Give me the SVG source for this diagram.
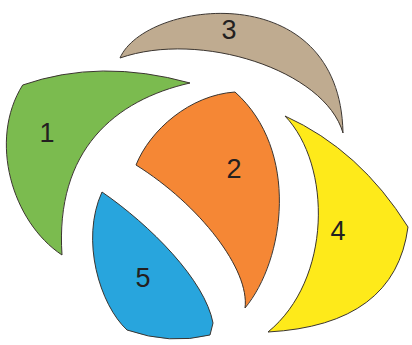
<svg xmlns="http://www.w3.org/2000/svg" width="412" height="345" viewBox="0 0 412 345">
<style>
.s{stroke:#3b3530;stroke-width:1;stroke-linejoin:round}
.t{font-family:"Liberation Sans",Arial,sans-serif;font-size:27px;fill:#231f20;text-anchor:middle}
</style>
<rect width="412" height="345" fill="#fff"/>
<g id="node1">
<path class="s" fill="#7bbb4f" d="M22.7,85 Q100,58 190,83 C115,100 55,150 62,255 C12,222 -12,140 22.7,85 Z"/>
<text class="t" x="47" y="142">1</text>
</g>
<g id="node3">
<path class="s" fill="#bfab90" d="M120,58 C145,0 340,-25 343,133 C325,70 200,30 120,58 Z"/>
<text class="t" x="229" y="39">3</text>
</g>
<g id="node2">
<path class="s" fill="#f58735" d="M235,92 C300,150 285,260 245,308 C250,270 200,205 136,165 C150,130 190,95 235,92 Z"/>
<text class="t" x="234" y="178">2</text>
</g>
<g id="node4">
<path class="s" fill="#feea1a" d="M285,116 Q360,150 408,227 Q395,325 268,332 C332,280 332,165 285,116 Z"/>
<text class="t" x="338" y="240">4</text>
</g>
<g id="node5">
<path class="s" fill="#28a5dd" d="M102,192 C150,225 205,280 213,323 L210,335 Q170,345 127,330 C100,305 80,240 102,192 Z"/>
<text class="t" x="143" y="287">5</text>
</g>
<g id="connectors"/>
</svg>
